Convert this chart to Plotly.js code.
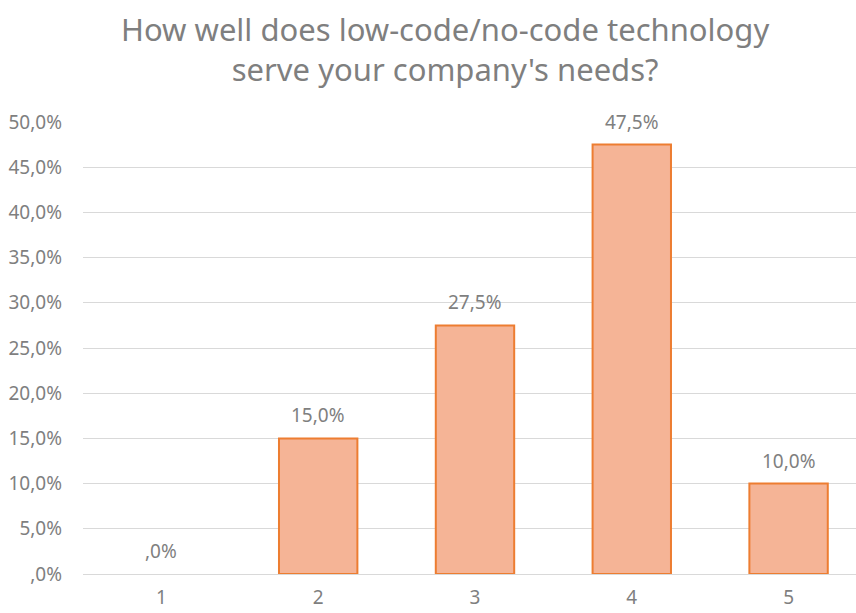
<!DOCTYPE html>
<html><head><meta charset="utf-8">
<script src="https://cdn.plot.ly/plotly-3.0.1.min.js"></script>
<style>html,body{margin:0;padding:0;background:#fff}#chart{width:856px;height:613px}</style>
</head><body><div id="chart"></div>
<script>
const categories = ["1", "2", "3", "4", "5"];
const values = [0.0, 0.15, 0.275, 0.475, 0.10];
const yTickVals = [0, 0.05, 0.10, 0.15, 0.20, 0.25, 0.30, 0.35, 0.40, 0.45, 0.50];
const yTickText = [",0%", "5,0%", "10,0%", "15,0%", "20,0%", "25,0%", "30,0%", "35,0%", "40,0%", "45,0%", "50,0%"];

function fmt(v) {
  const s = (v * 100).toFixed(1).replace(".", ",");
  return (s.startsWith("0,") ? s.slice(1) : s) + "%";
}

const gray = "#7F7F7F";
const font = "Noto Sans, Liberation Sans, sans-serif";

const labels = categories.map((c, i) => ({
  x: i, y: values[i], xref: "x", yref: "y",
  text: fmt(values[i]), showarrow: false,
  yanchor: "middle", yshift: 23,
  font: {family: font, size: 19, color: gray}
}));

Plotly.newPlot("chart", [{
  type: "bar",
  x: categories,
  y: values,
  width: 0.5,
  marker: {color: "#F5B496", line: {color: "#ED7D31", width: values.map(v => v > 0 ? 2 : 0)}},
  hoverinfo: "skip"
}], {
  width: 856, height: 613,
  margin: {l: 83, r: 0, t: 122, b: 39},
  paper_bgcolor: "#fff", plot_bgcolor: "#fff",
  title: {
    text: "How well does low-code/no-code technology<br>serve your company's needs?",
    font: {family: font, size: 31, color: gray},
    x: 0.52, xanchor: "center", y: 0.933, yanchor: "middle"
  },
  annotations: labels,
  xaxis: {
    type: "category", range: [-0.5, 4.43],
    showgrid: false, zeroline: false, showline: false, ticks: "",
    ticklabelstandoff: 10,
    tickfont: {family: font, size: 19, color: gray}
  },
  yaxis: {
    range: [0, 0.5], tickvals: yTickVals, ticktext: yTickText,
    showgrid: true, gridcolor: "#D9D9D9", gridwidth: 1,
    zeroline: true, zerolinecolor: "#D9D9D9", zerolinewidth: 1,
    showline: false, ticks: "", ticklabelstandoff: 20,
    tickfont: {family: font, size: 19, color: gray}
  },
  showlegend: false
}, {staticPlot: true});
</script></body></html>
